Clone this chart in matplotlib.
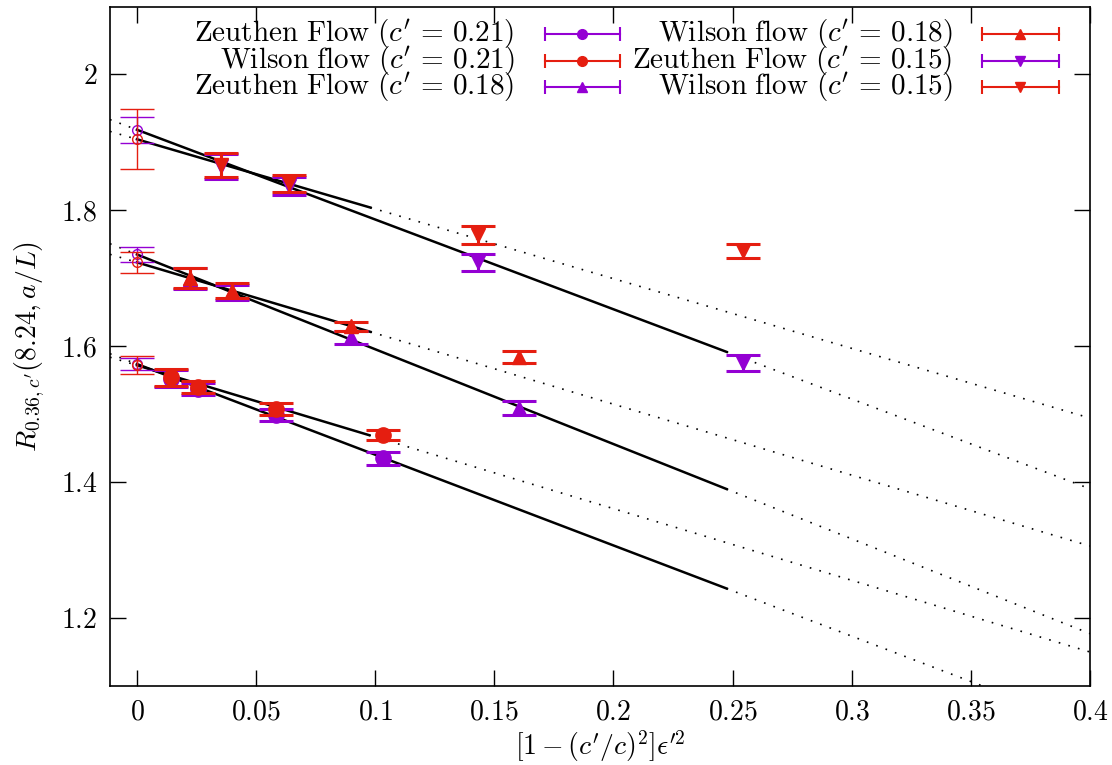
import matplotlib
matplotlib.use("Agg")
import matplotlib.pyplot as plt
import numpy as np

plt.rcParams['mathtext.fontset'] = 'cm'
plt.rcParams['font.family'] = 'DejaVu Serif'

PURPLE = '#9400d3'
RED = '#e51e10'

# ---- data ----
x_021 = [0.0143, 0.0257, 0.0582, 0.1034]
zeu_021 = [1.552, 1.537, 1.498, 1.4346]
zeu_021_err = [0.012, 0.009, 0.009, 0.009]
wil_021 = [1.554, 1.540, 1.5077, 1.469]
wil_021_err = [0.0127, 0.0088, 0.009, 0.0078]

x_018 = [0.0222, 0.0397, 0.0900, 0.1603]
zeu_018 = [1.699, 1.679, 1.6125, 1.509]
zeu_018_err = [0.015, 0.011, 0.010, 0.010]
wil_018 = [1.6996, 1.681, 1.629, 1.584]
wil_018_err = [0.0147, 0.011, 0.007, 0.009]

x_015 = [0.0353, 0.0638, 0.1432, 0.2544]
zeu_015 = [1.864, 1.835, 1.723, 1.575]
zeu_015_err = [0.018, 0.013, 0.013, 0.012]
wil_015 = [1.866, 1.839, 1.763, 1.740]
wil_015_err = [0.018, 0.013, 0.013, 0.0105]

# continuum extrapolations (value at x=0, error) and fit slopes
extrap_labels = ['zeu021', 'wil021', 'zeu018', 'wil018', 'zeu015', 'wil015']
extrap_val = [1.5735, 1.5716, 1.7346, 1.723, 1.918, 1.904]
extrap_err = [0.009, 0.013, 0.0115, 0.0155, 0.019, 0.044]
fit_slope = [-1.334, -1.054, -1.394, -1.043, -1.32, -1.025]
fit_end = [0.2475, 0.0975, 0.2475, 0.098, 0.2475, 0.098]

xticks = [0, 0.05, 0.1, 0.15, 0.2, 0.25, 0.3, 0.35, 0.4]
xtick_labels = ['0', '0.05', '0.1', '0.15', '0.2', '0.25', '0.3', '0.35', '0.4']
yticks = [1.2, 1.4, 1.6, 1.8, 2.0]
ytick_labels = ['1.2', '1.4', '1.6', '1.8', '2']

legend_labels = [r'$\mathrm{Zeuthen\ Flow}\ (c^\prime\, =\, 0.21)$',
                 r'$\mathrm{Wilson\ flow}\ (c^\prime\, =\, 0.21)$',
                 r'$\mathrm{Zeuthen\ Flow}\ (c^\prime\, =\, 0.18)$',
                 r'$\mathrm{Wilson\ flow}\ (c^\prime\, =\, 0.18)$',
                 r'$\mathrm{Zeuthen\ Flow}\ (c^\prime\, =\, 0.15)$',
                 r'$\mathrm{Wilson\ flow}\ (c^\prime\, =\, 0.15)$']

XMIN, XMAX = -0.0113, 0.4
YMIN, YMAX = 1.1, 2.0985
FS = 20
LFS = 21

fig = plt.figure(figsize=(11.12, 7.65), dpi=100)
ax = fig.add_axes([110/1112, 79/765, 980/1112, 679/765])

# fit lines
for v, s, e in zip(extrap_val, fit_slope, fit_end):
    xs = np.array([0.0, e])
    ax.plot(xs, v + s*xs, color='black', lw=1.8, zorder=2)
    xd = np.array([e, XMAX])
    ax.plot(xd, v + s*xd, color='black', lw=1.2, ls=(0, (1, 5)), zorder=2)
    xl = np.array([XMIN, 0.0])
    ax.plot(xl, v + s*xl, color='black', lw=1.2, ls=(0, (1, 5)), zorder=2)

series = [
    (x_021, zeu_021, zeu_021_err, PURPLE, 'o', 11),
    (x_021, wil_021, wil_021_err, RED, 'o', 11),
    (x_018, zeu_018, zeu_018_err, PURPLE, '^', 10),
    (x_018, wil_018, wil_018_err, RED, '^', 10),
    (x_015, zeu_015, zeu_015_err, PURPLE, 'v', 10),
    (x_015, wil_015, wil_015_err, RED, 'v', 10),
]
for i, (xs, ys, es, c, m, ms) in enumerate(series):
    ax.errorbar(xs, ys, yerr=es, fmt=m, color=c, ms=ms, mec=c,
                capsize=12.5, elinewidth=2.2, capthick=2.2, zorder=3 + i)
    # extrapolated value
    ax.errorbar([0.0], [extrap_val[i]], yerr=[extrap_err[i]], fmt='o',
                color=c, mfc='none', mec=c, ms=7, mew=1.0,
                capsize=12, elinewidth=1.0, capthick=1.0, zorder=3 + i)

ax.set_xlim(XMIN, XMAX)
ax.set_ylim(YMIN, YMAX)
ax.set_xticks(xticks, labels=['$%s$' % t for t in xtick_labels])
ax.set_yticks(yticks, labels=['$%s$' % t for t in ytick_labels])
ax.tick_params(direction='in', length=11.5, width=1.0, top=True, right=True,
               labelsize=FS, pad=9)
for sp in ax.spines.values():
    sp.set_linewidth(1.2)

ax.set_xlabel(r"$[1-(c^\prime/c)^2]\epsilon^{\prime 2}$", fontsize=FS, labelpad=2)
ax.set_ylabel(r"$R_{0.36,c^\prime}(8.24,a/L)$", fontsize=FS, labelpad=10)

# legend drawn gnuplot-style
leg_markers = ['o', 'o', '^', '^', 'v', 'v']
leg_colors = [PURPLE, RED, PURPLE, RED, PURPLE, RED]
rows_y = [0.960, 0.9205, 0.882]
col_text_x = [0.413, 0.860]
col_line_x = [(0.444, 0.520), (0.890, 0.968)]
for k in range(6):
    col, row = divmod(k, 3)
    y = rows_y[row]
    ax.text(col_text_x[col], y, legend_labels[k], transform=ax.transAxes,
            ha='right', va='center', fontsize=LFS)
    x0, x1 = col_line_x[col]
    c = leg_colors[k]
    ax.plot([x0, x1], [y, y], transform=ax.transAxes, color=c, lw=1.5,
            clip_on=False, zorder=10)
    ax.plot([x0, x1], [y, y], transform=ax.transAxes, ls='none', marker='|',
            ms=10, mew=1.5, color=c, clip_on=False, zorder=10)
    ax.plot([(x0 + x1) / 2], [y], transform=ax.transAxes, ls='none',
            marker=leg_markers[k], ms=7, color=c, clip_on=False, zorder=10)

fig.savefig('out.png', dpi=100)
